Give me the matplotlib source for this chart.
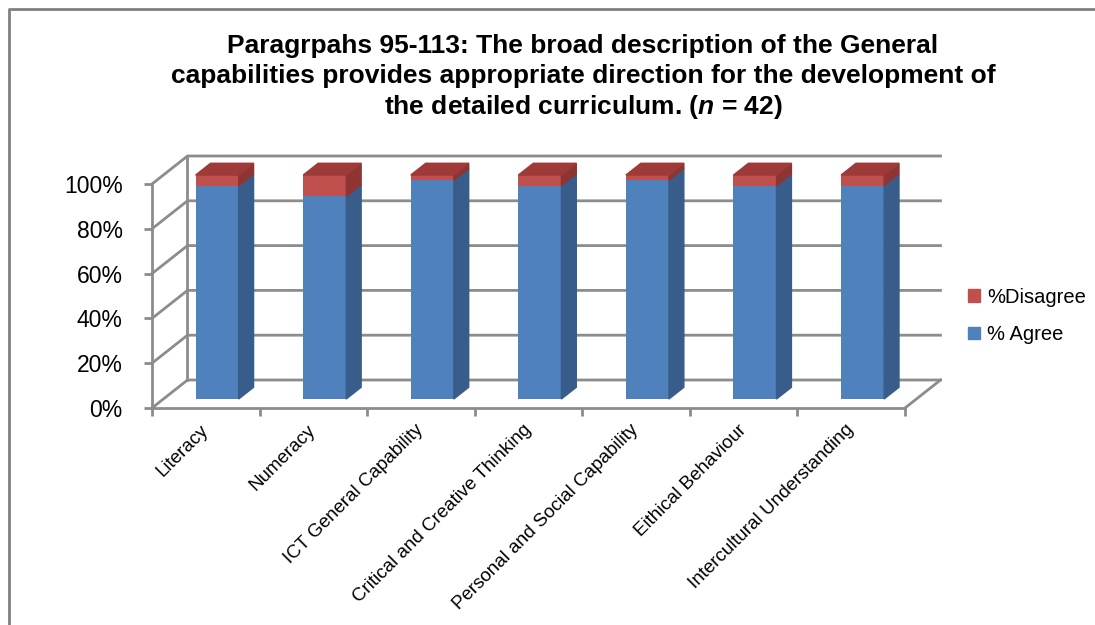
import matplotlib.pyplot as plt
from matplotlib.patches import Polygon, Patch
import numpy as N

plt.rcParams['font.family'] = ['Liberation Sans', 'DejaVu Sans']
plt.rcParams['mathtext.fontset'] = 'custom'
plt.rcParams['mathtext.it'] = 'Liberation Sans:italic:bold'
plt.rcParams['mathtext.rm'] = 'Liberation Sans:bold'

# data (n = 42)
categories = ['Literacy', 'Numeracy', 'ICT General Capability',
              'Critical and Creative Thinking', 'Personal and Social Capability',
              'Eithical Behaviour', 'Intercultural Understanding']
agree = [95.2, 90.5, 97.6, 95.2, 97.6, 95.2, 95.2]
disagree = [4.8, 9.5, 2.4, 4.8, 2.4, 4.8, 4.8]
yticks = [0, 20, 40, 60, 80, 100]

# fake 3d: depth offsets in data units
DX, DY = 0.33, 12.5
d_front, d_back = 0.32, 0.74
bar_w = 0.40

blue, blue_side = '#4F81BD', '#385D8A'
red, red_side, red_top = '#C0504D', '#8E3533', '#9E3A37'
grid_c = '#8C8C8C'

fig = plt.figure(figsize=(10.95, 6.25), dpi=100)
ax = fig.add_axes([152/1095, 1-408/625, 753/1095, 224/625])
ncat = len(categories)
ax.set_xlim(0, ncat)
ax.set_ylim(0, 100)

# walls
for y in yticks:
    ax.plot([0, DX, ncat + DX], [y, y + DY, y + DY], color=grid_c, lw=2,
            clip_on=False, zorder=1)
ax.plot([DX, DX], [DY, 100 + DY], color=grid_c, lw=2, clip_on=False, zorder=1)
ax.plot([ncat, ncat + DX], [0, DY], color=grid_c, lw=2, clip_on=False, zorder=1)

# bars
x = N.arange(ncat) + 0.5 + d_front * DX
y0 = d_front * DY
ax.bar(x, agree, bar_w, bottom=y0, color=blue, zorder=3, clip_on=False)
ax.bar(x, disagree, bar_w, bottom=y0 + N.array(agree), color=red, zorder=3,
       clip_on=False)
bdx, bdy = (d_back - d_front) * DX, (d_back - d_front) * DY
for i in range(ncat):
    xr = x[i] + bar_w / 2
    xl = x[i] - bar_w / 2
    a = y0 + agree[i]
    t = a + disagree[i]
    ax.add_patch(Polygon([(xr, y0), (xr + bdx, y0 + bdy), (xr + bdx, a + bdy), (xr, a)],
                         color=blue_side, zorder=3, clip_on=False))
    ax.add_patch(Polygon([(xr, a), (xr + bdx, a + bdy), (xr + bdx, t + bdy), (xr, t)],
                         color=red_side, zorder=3, clip_on=False))
    ax.add_patch(Polygon([(xl, t), (xr, t), (xr + bdx, t + bdy), (xl + bdx, t + bdy)],
                         color=red_top, zorder=3, clip_on=False))

# axes styling
for s in ['top', 'right']:
    ax.spines[s].set_visible(False)
for s in ['left', 'bottom']:
    ax.spines[s].set_color(grid_c)
    ax.spines[s].set_linewidth(2)
ax.set_yticks(yticks)
ax.set_yticklabels([f'{v}%' for v in yticks], fontsize=16.5)
ax.tick_params(axis='y', length=6, width=2, color=grid_c, pad=15)
ax.set_xticks(N.arange(ncat + 1))
ax.set_xticklabels([])
ax.tick_params(axis='x', length=6, width=2, color=grid_c)
for i, c in enumerate(categories):
    ax.annotate(c, (i + 0.5, 0), xytext=(0, -14), textcoords='offset points',
                rotation=45, rotation_mode='anchor', ha='right', va='center',
                fontsize=13.5, annotation_clip=False)

# legend
handles = [Patch(color=red, label='%Disagree'), Patch(color=blue, label='% Agree')]
fig.legend(handles=handles, loc='center left', bbox_to_anchor=(968/1095, 1-316/625),
           frameon=False, fontsize=14.5, handlelength=0.6, handleheight=0.6,
           handletextpad=0.35, labelspacing=0.9, borderpad=0, borderaxespad=0)

# title
tx = 583 / 1095
fig.text(tx, 1-46/625, 'Paragrpahs 95-113: The broad description of the General',
         ha='center', va='center', fontsize=19, fontweight='bold')
fig.text(tx, 1-76/625, 'capabilities provides appropriate direction for the development of',
         ha='center', va='center', fontsize=19, fontweight='bold')
fig.text(tx, 1-107/625, r'the detailed curriculum. ($n$ = 42)',
         ha='center', va='center', fontsize=19, fontweight='bold')

# chart border (top and left edges visible)
fig.add_artist(plt.Line2D([9/1095, 9/1095, 1], [0, 1-9/625, 1-9/625],
                          transform=fig.transFigure, color='#808080', lw=2))

fig.savefig('out.png', dpi=100)
